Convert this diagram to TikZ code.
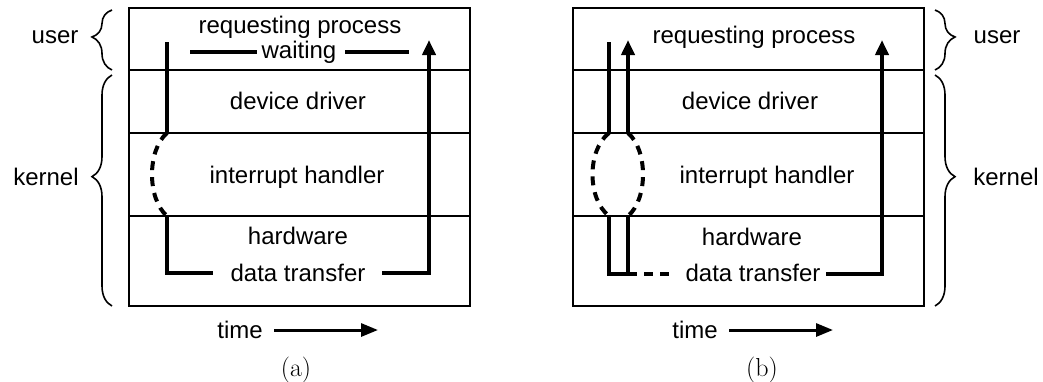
\documentclass[tikz,border=0pt]{standalone}
\usepackage{fontspec}
\newfontfamily\lsans{Liberation Sans}
\usetikzlibrary{arrows.meta,decorations.pathreplacing}

\begin{document}
\begin{tikzpicture}[x=1pt,y=-1pt,
  lbl/.style={font=\lsans\fontsize{24}{28}\selectfont, inner sep=0pt},
  caption/.style={font=\fontsize{26}{30}\selectfont, inner sep=0pt},
  frame/.style={line width=2.5pt},
  sep/.style={line width=1.2pt},
  flow/.style={line width=4pt},
  hop/.style={line width=4pt, dash pattern=on 9pt off 7pt},
  tip/.style={-{Triangle[length=15pt,width=13pt]}},
  timearrow/.style={line width=3pt, -{Triangle[length=17pt,width=13pt]}},
  grp/.style={decorate, decoration={brace, amplitude=20pt, aspect=#1}, line width=1.6pt}]

\useasboundingbox (0,0) rectangle (1043,381);

% ---------------- (a) synchronous ----------------
\draw[frame] (129,8) rectangle (470,306);
\draw[sep] (129,70) -- (470,70);
\draw[sep] (129,133) -- (470,133);
\draw[sep] (129,216) -- (470,216);

\node[lbl] (reqA) at (300,27) {requesting process};
\node[lbl] (waitA) at (299,52) {waiting};
\node[lbl] (ddA) at (298,101) {device driver};
\node[lbl] (ihA) at (297,177) {interrupt handler};
\node[lbl] (hwA) at (298,236) {hardware};
\node[lbl] (dtA) at (298,273) {data transfer};
\node[lbl] (timeA) at (240,330) {time};
\node[caption] (capA) at (296,370) {(a)};
\node[lbl] (userA) at (55,37) {user};
\node[lbl] (kernA) at (46,177) {kernel};

\coordinate (a1) at (167,42);
\coordinate (a2) at (167,133);
\coordinate (a3) at (167,216);
\coordinate (a4) at (167,273);
\coordinate (a5) at (213,273);
\coordinate (a6) at (382,273);
\coordinate (a7) at (429,273);
\coordinate (a8) at (429,40);
\coordinate (w1) at (190,52);
\coordinate (w2) at (257,52);
\coordinate (w3) at (345,52);
\coordinate (w4) at (409,52);
\coordinate (ta1) at (274,330);
\coordinate (ta2) at (378,330);

\draw[flow] (a1) -- (a2);
\draw[hop] (a2) .. controls (147,150) and (147,199) .. (a3);
\draw[flow] (a3) -- (a4) -- (a5);
\draw[flow, tip] (a6) -- (a7) -- (a8);
\draw[flow] (w1) -- (w2);
\draw[flow] (w3) -- (w4);
\draw[timearrow] (ta1) -- (ta2);

\coordinate (ba1) at (112,70);
\coordinate (ba2) at (112,10);
\coordinate (ba3) at (112,306);
\coordinate (ba4) at (112,75);
\draw[grp=0.55] (ba1) -- (ba2);
\draw[grp=0.56] (ba3) -- (ba4);

% ---------------- (b) asynchronous ----------------
\draw[frame] (573,8) rectangle (924,306);
\draw[sep] (573,70) -- (924,70);
\draw[sep] (573,133) -- (924,133);
\draw[sep] (573,216) -- (924,216);

\node[lbl] (reqB) at (754,37) {requesting process};
\node[lbl] (ddB) at (750,101) {device driver};
\node[lbl] (ihB) at (767,177) {interrupt handler};
\node[lbl] (hwB) at (752,237) {hardware};
\node[lbl] (dtB) at (753,273) {data transfer};
\node[lbl] (timeB) at (695,330) {time};
\node[caption] (capB) at (762,370) {(b)};
\node[lbl] (userB) at (997,37) {user};
\node[lbl] (kernB) at (1006,177) {kernel};

\coordinate (b1) at (609,42);
\coordinate (b2) at (609,133);
\coordinate (b3) at (609,216);
\coordinate (b4) at (609,274);
\coordinate (c1) at (628,40);
\coordinate (c2) at (628,133);
\coordinate (c3) at (628,216);
\coordinate (c4) at (628,274);
\coordinate (b5) at (676,274);
\coordinate (b6) at (826,274);
\coordinate (b7) at (882,274);
\coordinate (b8) at (882,40);
\coordinate (tb1) at (729,330);
\coordinate (tb2) at (833,330);

\draw[flow] (b1) -- (b2);
\draw[flow, tip] (c2) -- (c1);
\draw[hop] (b2) .. controls (587,150) and (587,199) .. (b3);
\draw[hop] (c2) .. controls (648,150) and (648,199) .. (c3);
\draw[flow] (b3) -- (b4) -- (c4) -- (c3);
\draw[hop] (c4) -- (b5);
\draw[flow, tip] (b6) -- (b7) -- (b8);
\draw[timearrow] (tb1) -- (tb2);

\coordinate (bb1) at (935,10);
\coordinate (bb2) at (935,70);
\coordinate (bb3) at (935,75);
\coordinate (bb4) at (935,306);
\draw[grp=0.45] (bb1) -- (bb2);
\draw[grp=0.44] (bb3) -- (bb4);
\end{tikzpicture}
\end{document}
